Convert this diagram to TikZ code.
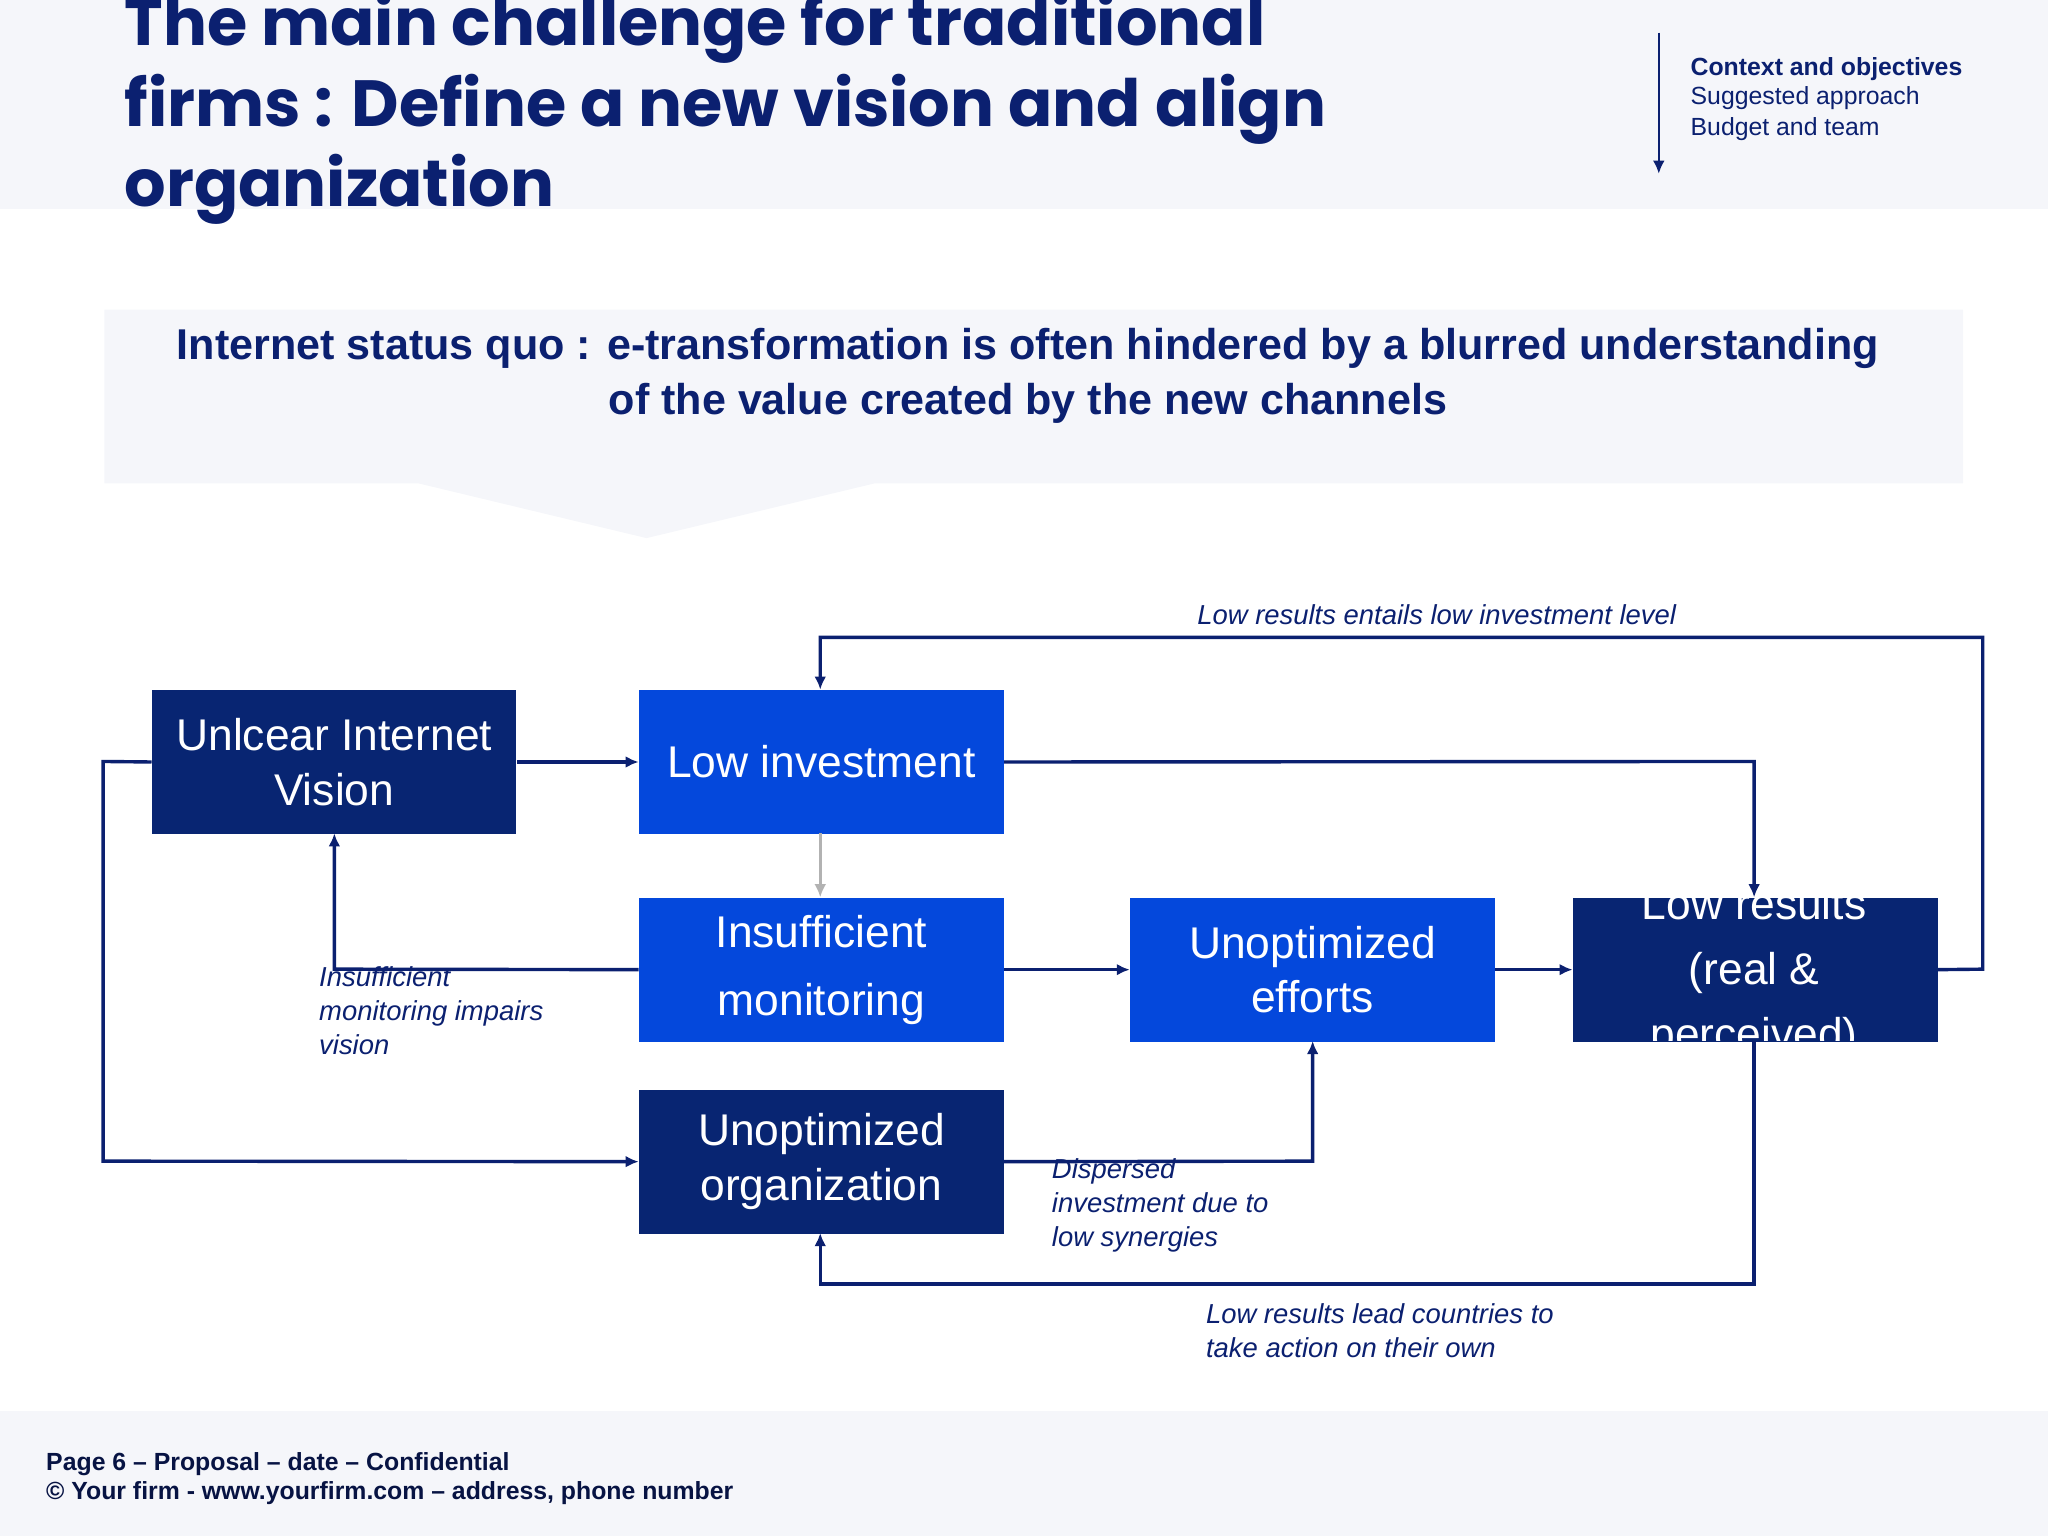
\documentclass[tikz,border=0pt]{standalone}
\usepackage{fontspec}
\setmainfont{Liberation Sans}
\newfontfamily\titlefont{Poppins}
\usetikzlibrary{arrows.meta}
\definecolor{navy}{HTML}{0B2070}
\definecolor{dbox}{HTML}{082572}
\definecolor{bbox}{HTML}{0448DC}
\definecolor{bg}{HTML}{F5F6FA}
\begin{document}
\begin{tikzpicture}[x=0.5pt,y=-0.5pt,
  box/.style={draw=none,minimum width=139.5pt,minimum height=55pt,inner sep=0pt,text=white,font=\fontsize{17}{21}\selectfont,align=center,anchor=north west},
  con/.style={navy,line width=1.3pt,-{Latex[length=5pt,width=4.5pt]}},
  lab/.style={navy,font=\fontsize{10.5}{13}\selectfont\itshape,align=left,inner sep=0pt}]
\useasboundingbox (0,0) rectangle (1568,1176);
\fill[bg] (0,0) rectangle (1568,160);
\fill[bg] (0,1080) rectangle (1568,1176);
\begin{scope}
\clip (0,0) rectangle (1568,1176);
\node[anchor=base west,inner sep=0pt,navy,font=\titlefont\fontsize{25}{31}\selectfont\bfseries] (t1) at (95,35) {The main challenge for traditional};
\end{scope}
\node[anchor=base west,inner sep=0pt,navy,font=\titlefont\fontsize{25}{31}\selectfont\bfseries] (t2) at (95,97) {firms : Define a new vision and align};
\node[anchor=base west,inner sep=0pt,navy,font=\titlefont\fontsize{25}{31}\selectfont\bfseries] (t3) at (95,158) {organization};
\coordinate (na) at (1270,25); \coordinate (nb) at (1270,133);
\draw[con,line width=0.8pt] (na) -- (nb);
\node[anchor=base west,inner sep=0pt,navy,font=\fontsize{9.5}{11}\selectfont\bfseries] (n1) at (1294,58) {Context and objectives};
\node[anchor=base west,inner sep=0pt,navy,font=\fontsize{9.5}{11}\selectfont] (n2) at (1294,80) {Suggested approach};
\node[anchor=base west,inner sep=0pt,navy,font=\fontsize{9.5}{11}\selectfont] (n3) at (1294,104) {Budget and team};
\fill[bg] (80,237) -- (1503,237) -- (1503,370) -- (670,370) -- (495,412) -- (320,370) -- (80,370) -- cycle;
\node[navy,font=\fontsize{16.5}{21}\selectfont\bfseries,align=center,inner sep=0pt] (ban) at (787,288) {Internet status quo : e-transformation is often hindered by a blurred understanding\\of the value created by the new channels};
\node[box,fill=dbox] (uv) at (116,528) {Unlcear Internet\\Vision};
\node[box,fill=bbox] (li) at (489,528) {Low investment};
\node[box,fill=bbox,font=\fontsize{17}{26}\selectfont] (im) at (489,687) {Insufficient\\monitoring};
\node[box,fill=bbox] (ue) at (865,687) {Unoptimized\\efforts};
\node[box,fill=dbox] (uo) at (489,834) {Unoptimized\\organization};
\node[box,fill=dbox,text opacity=0] (lr) at (1204,687) {};
\begin{scope}
\clip (1204,670) rectangle (1483,797);
\node[text=white,font=\fontsize{17}{25}\selectfont,align=center] (lrt) at (1343,745) {Low results\\(real \&\\perceived)};
\end{scope}
\draw[con] (uv.east) -- (li.west);
\draw[con] (lr.east) -- (1518,742) -- (1518,488) -- (628,488) -- (628,528);
\node[lab] (l1) at (1100,471) {Low results entails low investment level};
\draw[con] (li.east) -- (1343,583) -- (1343,687);
\draw[con,gray!60] (628,638) -- (628,687);
\draw[con] (im.west) -- (256,742) -- (256,638);
\node[lab,anchor=north west] (l2) at (244,740) {Insufficient\\monitoring impairs\\vision};
\draw[con] (im.east) -- (ue.west);
\draw[con] (ue.east) -- (lr.west);
\draw[con] (uv.west) -- (79,583) -- (79,889) -- (uo.west);
\draw[con] (uo.east) -- (1005,889) -- (1005,797);
\node[lab,anchor=north west] (l3) at (805,887) {Dispersed\\investment due to\\low synergies};
\draw[con] (1343,797) -- (1343,983) -- (628,983) -- (628,944);
\node[lab,anchor=north west] (l4) at (923,998) {Low results lead countries to\\take action on their own};
\node[anchor=base west,inner sep=0pt,navy!60!black,font=\fontsize{9.5}{11}\selectfont\bfseries] (f1) at (35,1126) {Page 6 -- Proposal -- date -- Confidential};
\node[anchor=base west,inner sep=0pt,navy!60!black,font=\fontsize{9.5}{11}\selectfont\bfseries] (f2) at (35,1148) {© Your firm - www.yourfirm.com -- address, phone number};
\end{tikzpicture}
\end{document}
